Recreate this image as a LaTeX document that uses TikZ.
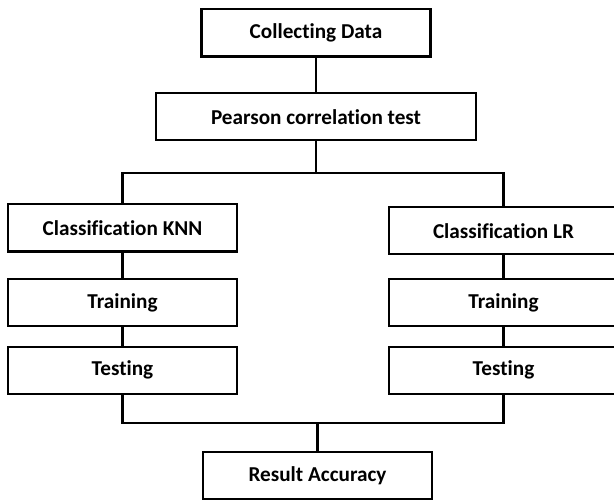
\documentclass[tikz,border=0pt]{standalone}
\usepackage{fontspec}
\setmainfont{Carlito}[Ligatures=CommonOff]
\usetikzlibrary{positioning}
\usetikzlibrary{calc}

\begin{document}
\begin{tikzpicture}[x=0.5pt, y=-0.5pt, line width=1.1pt, every node/.style={rectangle, draw, line width=1.1pt, minimum width=114.5pt, minimum height=23.6pt, inner sep=0pt, font=\fontsize{10.6}{12}\selectfont\bfseries}]
        \useasboundingbox (0, 0) rectangle (614, 501);
        \clip (0, 0) rectangle (614, 501);

        \node (collect) at (316, 33) {Collecting Data};

        \node[minimum width=159.8pt] (pearson) at (316, 116.7) {Pearson correlation test};

        \node (knn) at (122.5, 228) {Classification KNN};
        \node (lr) at (503.5, 230.7) {Classification LR};

        \node (trainL) at (122.5, 302.8) {Training};
        \node (trainR) at (503.5, 302.8) {Training};

        \node (testL) at (122.5, 370.3) {Testing};
        \node (testR) at (503.5, 370.3) {Testing};

        \node (result) at (317.5, 475.5) {Result Accuracy};

        \coordinate (split) at (316, 173.3);
        \coordinate (merge) at (317.5, 422.6);

        \draw (collect) -- (pearson);
        \draw (pearson) -- (split);
        \draw (knn.north) |- (split) -| (lr.north);
        \draw (knn) -- (trainL);
        \draw (trainL) -- (testL);
        \draw (lr) -- (trainR);
        \draw (trainR) -- (testR);
        \draw (testL.south) |- (merge) -| (testR.south);
        \draw (merge) -- (result);
      \end{tikzpicture}
\end{document}
